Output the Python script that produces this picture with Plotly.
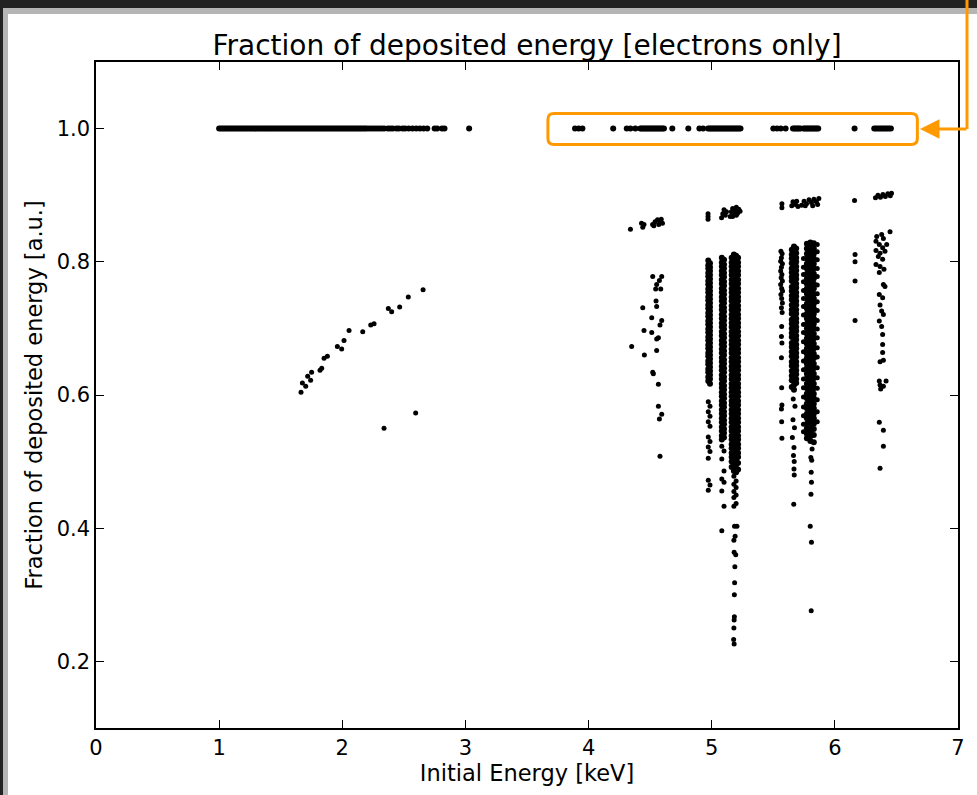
import plotly.graph_objects as go

# ---------------------------------------------------------------------------
# Data: fraction of deposited energy vs. initial electron energy [keV]
# ---------------------------------------------------------------------------

# Events that deposit their full energy (fraction = 1.0)
FULL_FRACTION = 1.0
full_energy_low = [
    1.000, 1.015, 1.030, 1.045, 1.060, 1.075, 1.090, 1.105, 1.120, 1.135,
    1.150, 1.165, 1.180, 1.195, 1.210, 1.225, 1.240, 1.255, 1.270, 1.285,
    1.300, 1.315, 1.330, 1.345, 1.360, 1.375, 1.390, 1.405, 1.420, 1.435,
    1.450, 1.465, 1.480, 1.495, 1.510, 1.525, 1.540, 1.555, 1.570, 1.585,
    1.600, 1.615, 1.630, 1.645, 1.660, 1.675, 1.690, 1.705, 1.720, 1.735,
    1.750, 1.765, 1.780, 1.795, 1.810, 1.825, 1.840, 1.855, 1.870, 1.885,
    1.900, 1.915, 1.930, 1.945, 1.960, 1.975, 1.990, 2.005, 2.020, 2.035,
    2.050, 2.065, 2.080, 2.095, 2.110, 2.125, 2.140, 2.155, 2.170, 2.185,
    2.200, 2.22, 2.24, 2.26, 2.28, 2.30, 2.32, 2.34, 2.37, 2.39, 2.41, 2.44,
    2.46, 2.49, 2.51, 2.54, 2.57, 2.60, 2.63, 2.66, 2.69, 2.75, 2.77, 2.81,
    2.83, 3.03,
]
full_energy_high = [
    3.89, 3.92, 3.95, 4.20, 4.31, 4.34, 4.38,
    4.420, 4.432, 4.444, 4.456, 4.468, 4.480, 4.492, 4.504, 4.516, 4.528,
    4.540, 4.552, 4.564, 4.576, 4.588, 4.600, 4.612,
    4.68, 4.81, 4.90, 4.93,
    4.970, 4.982, 4.994, 5.006, 5.018, 5.030, 5.042, 5.054, 5.066, 5.078,
    5.090, 5.102, 5.114, 5.126, 5.138, 5.150, 5.162, 5.174, 5.186, 5.198,
    5.210, 5.222, 5.234,
    5.50, 5.53, 5.56, 5.60,
    5.660, 5.672, 5.684, 5.696, 5.708, 5.720, 5.745, 5.757, 5.769, 5.781,
    5.793, 5.805, 5.817, 5.829, 5.841, 5.853, 5.865,
    6.16,
    6.320, 6.335, 6.350, 6.365, 6.380, 6.395, 6.410, 6.425, 6.440, 6.455,
]

# Escape-peak band just below full deposition
band_energy = [
    4.34, 4.43, 4.44, 4.45, 4.52, 4.53, 4.54, 4.56, 4.57, 4.58, 4.59, 4.60,
    4.97, 4.97, 4.97, 5.08, 5.09, 5.10, 5.11, 5.12, 5.15, 5.16, 5.17, 5.17,
    5.18, 5.19, 5.20, 5.20, 5.21, 5.22, 5.23, 5.57, 5.57, 5.65, 5.66, 5.68,
    5.69, 5.70, 5.73, 5.75, 5.76, 5.77, 5.79, 5.81, 5.82, 5.83, 5.85, 5.86,
    5.87, 6.16, 6.33, 6.35, 6.37, 6.39, 6.41, 6.43, 6.45, 6.46,
]
band_fraction = [
    0.849, 0.858, 0.852, 0.856, 0.856, 0.854, 0.860, 0.863, 0.856, 0.861, 0.864, 0.858,
    0.864, 0.868, 0.872, 0.866, 0.872, 0.878, 0.870, 0.875, 0.868, 0.875, 0.880, 0.868,
    0.871, 0.877, 0.882, 0.870, 0.873, 0.879, 0.876, 0.881, 0.887, 0.884, 0.890, 0.886,
    0.891, 0.883, 0.885, 0.891, 0.884, 0.887, 0.893, 0.889, 0.884, 0.894, 0.890, 0.886,
    0.895, 0.892, 0.896, 0.900, 0.897, 0.901, 0.898, 0.902, 0.899, 0.903,
]

# Low-energy tail (1.6 - 2.7 keV)
tail_energy = [
    1.665, 1.676, 1.703, 1.719, 1.743, 1.751, 1.819, 1.833, 1.852, 1.879,
    1.960, 1.995, 2.014, 2.055, 2.166, 2.231, 2.258, 2.374, 2.401, 2.466,
    2.536, 2.656, 2.596, 2.339,
]
tail_fraction = [
    0.604, 0.618, 0.613, 0.628, 0.622, 0.634, 0.637, 0.640, 0.655, 0.658,
    0.673, 0.669, 0.682, 0.697, 0.695, 0.705, 0.707, 0.730, 0.725, 0.732,
    0.747, 0.758, 0.573, 0.550,
]

# Scattered partial depositions around 4.3 - 4.6 keV
mid_energy = [
    4.521, 4.594, 4.575, 4.553, 4.586, 4.545, 4.548, 4.553, 4.440, 4.513,
    4.594, 4.580, 4.450, 4.513, 4.567, 4.553, 4.350, 4.553, 4.453, 4.521,
    4.526, 4.567, 4.567, 4.594, 4.575, 4.580,
]
mid_fraction = [
    0.778, 0.778, 0.772, 0.766, 0.759, 0.759, 0.741, 0.733, 0.731, 0.716,
    0.712, 0.705, 0.697, 0.694, 0.686, 0.684, 0.673, 0.667, 0.660, 0.634,
    0.632, 0.616, 0.583, 0.571, 0.564, 0.508,
]

# Dense vertical columns: energy of each column and its deposited fractions
col_4972 = [0.802, 0.795, 0.790, 0.783, 0.778, 0.771, 0.766, 0.759, 0.754, 0.747,
            0.742, 0.735, 0.730, 0.723, 0.718, 0.711, 0.706, 0.699, 0.694, 0.687,
            0.682, 0.675, 0.670, 0.663, 0.658, 0.651, 0.646, 0.639, 0.634, 0.627,
            0.621]
col_4986 = [0.798, 0.792, 0.786, 0.780, 0.774, 0.768, 0.762, 0.756, 0.750, 0.744,
            0.738, 0.732, 0.726, 0.720, 0.714, 0.708, 0.702, 0.696, 0.690, 0.684,
            0.678, 0.672, 0.666, 0.660, 0.654, 0.648, 0.642, 0.636, 0.630, 0.624,
            0.617]
col_5082 = [0.806, 0.799, 0.793, 0.786, 0.780, 0.773, 0.767, 0.760, 0.754, 0.747,
            0.741, 0.734, 0.728, 0.721, 0.715, 0.708, 0.702, 0.695, 0.689, 0.682,
            0.676, 0.669, 0.663, 0.656, 0.650, 0.643, 0.637, 0.630, 0.624, 0.617,
            0.611, 0.604, 0.598, 0.591, 0.585, 0.578, 0.572, 0.565, 0.559, 0.552,
            0.546, 0.539, 0.533]
col_5100 = [0.803, 0.796, 0.790, 0.783, 0.777, 0.770, 0.764, 0.757, 0.751, 0.744,
            0.738, 0.731, 0.725, 0.718, 0.712, 0.705, 0.699, 0.692, 0.686, 0.679,
            0.673, 0.666, 0.660, 0.653, 0.647, 0.640, 0.634, 0.627, 0.621, 0.614,
            0.608, 0.601, 0.595, 0.588, 0.582, 0.575, 0.569, 0.562, 0.556, 0.549,
            0.543, 0.536]
col_5162 = [0.806, 0.799, 0.793, 0.786, 0.780, 0.773, 0.767, 0.760, 0.754, 0.747,
            0.741, 0.734, 0.728, 0.721, 0.715, 0.708, 0.702, 0.695, 0.689, 0.682,
            0.676, 0.669, 0.663, 0.656, 0.650, 0.643, 0.637, 0.630, 0.624, 0.617,
            0.611, 0.604, 0.598, 0.591, 0.585, 0.578, 0.572, 0.565, 0.559, 0.552,
            0.546, 0.539, 0.533, 0.526, 0.520, 0.513, 0.507, 0.500, 0.492]
col_5180 = [0.811, 0.804, 0.798, 0.791, 0.785, 0.778, 0.772, 0.765, 0.759, 0.752,
            0.746, 0.739, 0.733, 0.726, 0.720, 0.713, 0.707, 0.700, 0.694, 0.687,
            0.681, 0.674, 0.668, 0.661, 0.655, 0.648, 0.642, 0.635, 0.629, 0.622,
            0.616, 0.609, 0.603, 0.596, 0.590, 0.583, 0.577, 0.570, 0.564, 0.557,
            0.551, 0.544, 0.538, 0.531, 0.525, 0.518, 0.512, 0.505, 0.499, 0.492,
            0.486]
col_5198 = [0.809, 0.802, 0.796, 0.789, 0.783, 0.776, 0.770, 0.763, 0.757, 0.750,
            0.744, 0.737, 0.731, 0.724, 0.718, 0.711, 0.705, 0.698, 0.692, 0.685,
            0.679, 0.672, 0.666, 0.659, 0.653, 0.646, 0.640, 0.633, 0.627, 0.620,
            0.614, 0.607, 0.601, 0.594, 0.588, 0.581, 0.575, 0.568, 0.562, 0.555,
            0.549, 0.542, 0.536, 0.529, 0.523, 0.516, 0.510, 0.503, 0.497, 0.490,
            0.484]
col_5214 = [0.806, 0.799, 0.793, 0.786, 0.780, 0.773, 0.767, 0.760, 0.754, 0.747,
            0.741, 0.734, 0.728, 0.721, 0.715, 0.708, 0.702, 0.695, 0.689, 0.682,
            0.676, 0.669, 0.663, 0.656, 0.650, 0.643, 0.637, 0.630, 0.624, 0.617,
            0.611, 0.604, 0.598, 0.591, 0.585, 0.578, 0.572, 0.565, 0.559, 0.552,
            0.546, 0.539, 0.533, 0.526, 0.520, 0.513, 0.507, 0.498, 0.488]
col_5650 = [0.818, 0.811, 0.805, 0.798, 0.790, 0.784, 0.777, 0.771, 0.762, 0.756,
            0.749, 0.743, 0.735, 0.728, 0.722, 0.713, 0.707, 0.700, 0.693, 0.687,
            0.678, 0.672, 0.665, 0.658, 0.650, 0.644, 0.636, 0.629, 0.622, 0.612]
col_5668 = [0.823, 0.816, 0.810, 0.803, 0.797, 0.790, 0.784, 0.777, 0.771, 0.764,
            0.758, 0.751, 0.745, 0.738, 0.732, 0.725, 0.719, 0.712, 0.706, 0.699,
            0.693, 0.686, 0.680, 0.673, 0.667, 0.660, 0.654, 0.647, 0.641, 0.634,
            0.628, 0.621, 0.615, 0.608]
col_5686 = [0.820, 0.813, 0.806, 0.800, 0.793, 0.787, 0.780, 0.774, 0.767, 0.761,
            0.754, 0.748, 0.741, 0.735, 0.728, 0.722, 0.715, 0.709, 0.702, 0.696,
            0.689, 0.683, 0.676, 0.670, 0.663, 0.657, 0.650, 0.644, 0.637, 0.631,
            0.624, 0.618]
col_5773 = [0.827, 0.820, 0.812, 0.805, 0.797, 0.790, 0.782, 0.775, 0.767, 0.760,
            0.752, 0.745, 0.737, 0.730, 0.722, 0.715, 0.707, 0.700, 0.692, 0.685,
            0.677, 0.670, 0.662, 0.655, 0.647, 0.640, 0.632, 0.625, 0.617, 0.610,
            0.602, 0.595, 0.587, 0.580, 0.572, 0.565, 0.557, 0.550, 0.542, 0.535]
col_5801 = [0.829, 0.823, 0.816, 0.808, 0.801, 0.793, 0.786, 0.778, 0.771, 0.763,
            0.756, 0.748, 0.741, 0.733, 0.726, 0.718, 0.711, 0.703, 0.696, 0.688,
            0.681, 0.673, 0.666, 0.658, 0.651, 0.643, 0.636, 0.628, 0.621, 0.613,
            0.606, 0.598, 0.591, 0.583, 0.576, 0.568, 0.561, 0.553, 0.546, 0.538,
            0.531]
col_5829 = [0.828, 0.820, 0.812, 0.805, 0.797, 0.790, 0.782, 0.775, 0.767, 0.760,
            0.752, 0.745, 0.737, 0.730, 0.722, 0.715, 0.707, 0.700, 0.692, 0.685,
            0.677, 0.670, 0.662, 0.655, 0.647, 0.640, 0.632, 0.625, 0.617, 0.610,
            0.602, 0.595, 0.587, 0.580, 0.572, 0.565, 0.557, 0.549, 0.540, 0.529]

column_energy = [4.972, 4.986, 5.082, 5.100, 5.162, 5.180, 5.198, 5.214,
                 5.650, 5.668, 5.686, 5.773, 5.801, 5.829]
column_fraction = [col_4972, col_4986, col_5082, col_5100, col_5162, col_5180,
                   col_5198, col_5214, col_5650, col_5668, col_5686,
                   col_5773, col_5801, col_5829]

# Isolated points below and beside the dense columns (5.0 - 6.5 keV)
sparse_energy = [
    # 5.0 keV tail
    4.972, 4.986, 4.972, 4.986, 4.972, 4.986, 4.972, 4.986, 4.972, 4.986,
    4.972, 4.972, 4.986, 4.972,
    # 5.1 keV tail
    5.082, 5.100, 5.082, 5.100, 5.082, 5.100, 5.082, 5.082, 5.100,
    # 5.2 keV tail
    5.180, 5.198, 5.180, 5.198, 5.180, 5.198, 5.180, 5.198, 5.180,
    5.185, 5.205, 5.190, 5.180, 5.182, 5.195, 5.188, 5.186, 5.184, 5.184,
    5.182, 5.180, 5.178, 5.182,
    # 5.57 keV column
    5.562, 5.572, 5.566, 5.560, 5.574, 5.566, 5.560, 5.570, 5.564, 5.574,
    5.560, 5.568, 5.575, 5.562, 5.568, 5.574, 5.566, 5.572, 5.568, 5.566,
    5.570, 5.566, 5.568, 5.570, 5.566, 5.568, 5.570,
    # 5.68 keV tail
    5.662, 5.676, 5.660, 5.672, 5.655, 5.668, 5.664, 5.670, 5.668, 5.670,
    5.666,
    # 5.82 keV ragged edges
    5.745, 5.745, 5.745, 5.745, 5.745, 5.745, 5.745, 5.745, 5.745, 5.745,
    5.745, 5.745, 5.745, 5.745, 5.745, 5.745, 5.745, 5.745, 5.745, 5.745,
    5.745,
    5.857, 5.857, 5.857, 5.857, 5.857, 5.857, 5.857, 5.857, 5.857, 5.857,
    5.857, 5.857, 5.857, 5.857, 5.857, 5.857, 5.857, 5.857, 5.857, 5.857,
    # 5.82 keV tail
    5.815, 5.805, 5.812, 5.808, 5.810, 5.806, 5.800, 5.810, 5.808,
    # 6.16 keV
    6.164, 6.164, 6.164, 6.164,
    # 6.4 keV column
    6.448, 6.340, 6.380, 6.394, 6.334, 6.361, 6.421, 6.388, 6.334, 6.367,
    6.407, 6.353, 6.388, 6.334, 6.367, 6.399, 6.361, 6.394, 6.407, 6.361,
    6.388, 6.367, 6.380, 6.394, 6.361, 6.380, 6.388, 6.388, 6.388, 6.367,
    6.394, 6.361, 6.367, 6.372, 6.416, 6.394, 6.361, 6.394, 6.394, 6.367,
]
sparse_fraction = [
    0.590, 0.583, 0.575, 0.568, 0.560, 0.553, 0.537, 0.530, 0.522, 0.515,
    0.505, 0.472, 0.465, 0.457,
    0.523, 0.516, 0.504, 0.486, 0.474, 0.469, 0.456, 0.396, 0.433,
    0.478, 0.471, 0.466, 0.461, 0.455, 0.450, 0.446, 0.437, 0.433,
    0.403, 0.403, 0.388, 0.382, 0.364, 0.360, 0.342, 0.318, 0.300, 0.267,
    0.262, 0.250, 0.233, 0.226,
    0.816, 0.812, 0.806, 0.801, 0.797, 0.792, 0.786, 0.781, 0.776, 0.771,
    0.766, 0.760, 0.756, 0.751, 0.745, 0.738, 0.731, 0.724, 0.703, 0.688,
    0.678, 0.656, 0.611, 0.585, 0.579, 0.560, 0.535,
    0.594, 0.583, 0.563, 0.551, 0.536, 0.521, 0.509, 0.500, 0.489, 0.480,
    0.436,
    0.805, 0.792, 0.781, 0.770, 0.757, 0.745, 0.733, 0.720, 0.706, 0.694,
    0.680, 0.665, 0.651, 0.638, 0.624, 0.611, 0.597, 0.582, 0.569, 0.556,
    0.545,
    0.826, 0.815, 0.803, 0.790, 0.778, 0.765, 0.752, 0.740, 0.727, 0.712,
    0.699, 0.686, 0.671, 0.657, 0.641, 0.626, 0.610, 0.593, 0.575, 0.560,
    0.519, 0.506, 0.502, 0.484, 0.469, 0.451, 0.403, 0.379, 0.276,
    0.811, 0.800, 0.771, 0.712,
    0.845, 0.838, 0.841, 0.835, 0.831, 0.826, 0.826, 0.821, 0.817, 0.813,
    0.816, 0.808, 0.804, 0.796, 0.793, 0.789, 0.784, 0.766, 0.763, 0.751,
    0.746, 0.735, 0.726, 0.721, 0.711, 0.703, 0.691, 0.676, 0.664, 0.650,
    0.652, 0.621, 0.615, 0.609, 0.621, 0.613, 0.559, 0.547, 0.523, 0.490,
]

x_ticks = [0, 1, 2, 3, 4, 5, 6, 7]
y_ticks = [0.2, 0.4, 0.6, 0.8, 1.0]

# ---------------------------------------------------------------------------
# Figure
# ---------------------------------------------------------------------------
FONT = "DejaVu Sans"
W, H = 977, 795
ML, MR, MT, MB = 96, 19, 62, 67
PW, PH = W - ML - MR, H - MT - MB


def px_x(px):
    """Horizontal pixel position -> paper coordinate."""
    return (px - ML) / PW


def px_y(py):
    """Vertical pixel position (from top) -> paper coordinate."""
    return (H - MB - py) / PH


# Densely populated regions: full-deposition line and the column cores
dense_x, dense_y = [], []
dense_x += full_energy_low + full_energy_high
dense_y += [FULL_FRACTION] * (len(full_energy_low) + len(full_energy_high))
for e, fr in zip(column_energy, column_fraction):
    dense_x += [e] * len(fr)
    dense_y += fr

# Everything else
loose_x = band_energy + tail_energy + mid_energy + sparse_energy
loose_y = band_fraction + tail_fraction + mid_fraction + sparse_fraction

fig = go.Figure()
fig.add_trace(go.Scatter(
    x=dense_x, y=dense_y, mode="markers",
    marker=dict(size=6, color="black", line=dict(width=0)),
    showlegend=False, hoverinfo="x+y",
))
fig.add_trace(go.Scatter(
    x=loose_x, y=loose_y, mode="markers",
    marker=dict(size=5, color="black", line=dict(width=0)),
    showlegend=False, hoverinfo="x+y",
))

# Highlight box around the full-deposition events above 3.8 keV
bx0, bx1, by0, by1 = 3.67, 6.67, 0.976, 1.0225
rx, ry = 0.05, 0.009
box_path = (
    f"M {bx0 + rx},{by0} L {bx1 - rx},{by0} Q {bx1},{by0} {bx1},{by0 + ry} "
    f"L {bx1},{by1 - ry} Q {bx1},{by1} {bx1 - rx},{by1} "
    f"L {bx0 + rx},{by1} Q {bx0},{by1} {bx0},{by1 - ry} "
    f"L {bx0},{by0 + ry} Q {bx0},{by0} {bx0 + rx},{by0} Z"
)

ORANGE = "#FF9900"
shapes = [
    # window frame
    dict(type="rect", xref="paper", yref="paper",
         x0=px_x(0), x1=px_x(W), y0=px_y(0), y1=px_y(14),
         fillcolor="#b5b5b5", line=dict(width=0), layer="below"),
    dict(type="rect", xref="paper", yref="paper",
         x0=px_x(0), x1=px_x(W), y0=px_y(0), y1=px_y(8),
         fillcolor="#222222", line=dict(width=0), layer="below"),
    dict(type="rect", xref="paper", yref="paper",
         x0=px_x(0), x1=px_x(8), y0=px_y(H), y1=px_y(8),
         fillcolor="#b5b5b5", line=dict(width=0), layer="below"),
    dict(type="rect", xref="paper", yref="paper",
         x0=px_x(0), x1=px_x(3), y0=px_y(H), y1=px_y(0),
         fillcolor="#222222", line=dict(width=0), layer="below"),
    # highlight box
    dict(type="path", xref="x", yref="y", path=box_path,
         line=dict(color=ORANGE, width=3), fillcolor="rgba(0,0,0,0)"),
    # connector line coming from above
    dict(type="line", xref="paper", yref="paper",
         x0=px_x(967), x1=px_x(967), y0=px_y(0), y1=px_y(129),
         line=dict(color=ORANGE, width=3)),
]

fig.add_annotation(
    xref="paper", yref="paper", x=px_x(920), y=px_y(129),
    ax=48, ay=0, axref="pixel", ayref="pixel",
    showarrow=True, arrowhead=2, arrowsize=1.3, arrowwidth=3,
    arrowcolor=ORANGE, text="",
)

axis_common = dict(
    showline=True, linecolor="black", linewidth=1.5, mirror="ticks",
    ticks="inside", ticklen=8, tickwidth=1, tickcolor="black",
    showgrid=False, zeroline=False,
    tickfont=dict(family=FONT, size=21, color="black"),
)

fig.update_layout(
    width=W, height=H, autosize=False,
    margin=dict(l=ML, r=MR, t=MT, b=MB),
    paper_bgcolor="white", plot_bgcolor="white",
    font=dict(family=FONT, color="black"),
    title=dict(
        text="Fraction of deposited energy [electrons only]",
        font=dict(family=FONT, size=28, color="black"),
        x=0.5, xref="paper", xanchor="center",
        y=1 - 45 / H, yref="container", yanchor="middle",
    ),
    xaxis=dict(
        range=[0, 7], tickvals=x_ticks,
        title=dict(text="Initial Energy [keV]", standoff=4,
                   font=dict(family=FONT, size=22.5, color="black")),
        **axis_common,
    ),
    yaxis=dict(
        range=[0.1, 1.1], tickvals=y_ticks, tickformat=".1f",
        title=dict(text="Fraction of deposited energy [a.u.]", standoff=8,
                   font=dict(family=FONT, size=22.5, color="black")),
        **axis_common,
    ),
    shapes=shapes,
)

fig.write_html("out.html")
